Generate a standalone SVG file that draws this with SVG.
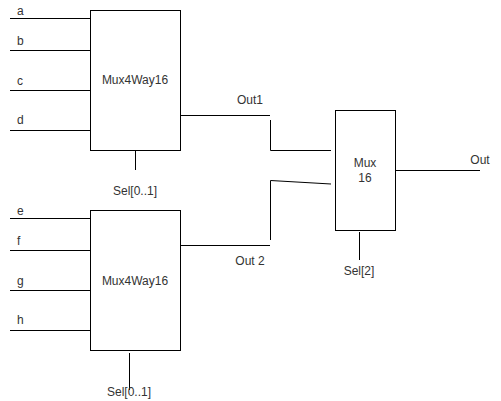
<svg xmlns="http://www.w3.org/2000/svg" width="501" height="401" viewBox="0 0 501 401">
<style>
.box{fill:#fff;stroke:#000;stroke-width:1}
.w{fill:none;stroke:#000;stroke-width:1}
text{font-family:"Liberation Sans",Arial,sans-serif;font-size:12px;fill:#333}
.c{text-anchor:middle}
</style>
<rect width="501" height="401" fill="#fff"/>
<g id="connectors">
<path class="w" d="M10 18.5H91M10 50.5H90M10 90.5H90M10 130.5H90"/>
<path class="w" d="M10 218.5H91M10 250.5H90M10 290.5H90M10 330.5H90"/>
<path class="w" d="M135.5 151V170M129.5 353V390"/>
<path class="w" d="M180 115.5H270M270.5 120V150.5H331"/>
<path class="w" d="M180 245.5H270M270.5 240V180.5L331 184"/>
<path class="w" d="M395 170.5H480M359.5 232V260"/>
</g>
<g id="labels">
<text x="17" y="15">a</text>
<text x="17" y="45">b</text>
<text x="17" y="85">c</text>
<text x="17" y="124">d</text>
<text x="17" y="215">e</text>
<text x="17" y="245">f</text>
<text x="17" y="285">g</text>
<text x="17" y="324">h</text>
<text x="135" y="195" class="c">Sel[0..1]</text>
<text x="129" y="396" class="c">Sel[0..1]</text>
<text x="250" y="104" class="c">Out1</text>
<text x="250" y="265" class="c">Out 2</text>
<text x="480" y="164" class="c">Out</text>
<text x="359" y="275" class="c">Sel[2]</text>
</g>
<g id="mux4way16-top">
<rect class="box" x="90.5" y="10.5" width="90" height="140"/>
<text x="135" y="84" class="c">Mux4Way16</text>
</g>
<g id="mux4way16-bottom">
<rect class="box" x="90.5" y="210.5" width="90" height="140"/>
<text x="135" y="285" class="c">Mux4Way16</text>
</g>
<g id="mux16">
<rect class="box" x="335.5" y="110.5" width="60" height="120"/>
<text x="365" y="167" class="c">Mux</text>
<text x="365" y="182" class="c">16</text>
</g>
</svg>
